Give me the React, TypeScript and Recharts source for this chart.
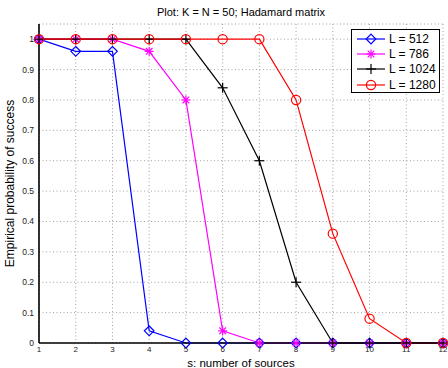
import React from 'react';
import { LineChart, Line, XAxis, YAxis, CartesianGrid, Label } from 'recharts';

const sources = [1, 2, 3, 4, 5, 6, 7, 8, 9, 10, 11, 12];
const l512 = [1, 0.96, 0.96, 0.04, 0, 0, 0, 0, 0, 0, 0, 0];
const l786 = [1, 1, 1, 0.96, 0.8, 0.04, 0, 0, 0, 0, 0, 0];
const l1024 = [1, 1, 1, 1, 1, 0.84, 0.6, 0.2, 0, 0, 0, 0];
const l1280 = [1, 1, 1, 1, 1, 1, 1, 0.8, 0.36, 0.08, 0, 0];
const yTicks = [0, 0.1, 0.2, 0.3, 0.4, 0.5, 0.6, 0.7, 0.8, 0.9, 1];
const seriesNames = ['L = 512', 'L = 786', 'L = 1024', 'L = 1280'];

const data = sources.map((s, i) => ({ s, a: l512[i], b: l786[i], c: l1024[i], d: l1280[i] }));

type MarkerKind = 'diamond' | 'star' | 'plus' | 'circle';

const series: { key: string; name: string; color: string; marker: MarkerKind }[] = [
  { key: 'a', name: seriesNames[0], color: '#0000ff', marker: 'diamond' },
  { key: 'b', name: seriesNames[1], color: '#ff00ff', marker: 'star' },
  { key: 'c', name: seriesNames[2], color: '#000000', marker: 'plus' },
  { key: 'd', name: seriesNames[3], color: '#ff0000', marker: 'circle' },
];

function Marker({ kind, cx, cy, color }: { kind: MarkerKind; cx: number; cy: number; color: string }) {
  const sw = 1.2;
  if (kind === 'diamond') {
    const h = 4.8;
    return (
      <polygon
        points={`${cx},${cy - h} ${cx + h},${cy} ${cx},${cy + h} ${cx - h},${cy}`}
        fill="none"
        stroke={color}
        strokeWidth={sw}
      />
    );
  }
  if (kind === 'circle') {
    return <circle cx={cx} cy={cy} r={4.6} fill="none" stroke={color} strokeWidth={sw} />;
  }
  if (kind === 'plus') {
    const h = 5;
    return (
      <g stroke={color} strokeWidth={sw}>
        <line x1={cx - h} y1={cy} x2={cx + h} y2={cy} />
        <line x1={cx} y1={cy - h} x2={cx} y2={cy + h} />
      </g>
    );
  }
  const h = 4.5;
  const d = 3.3;
  return (
    <g stroke={color} strokeWidth={sw}>
      <line x1={cx - h} y1={cy} x2={cx + h} y2={cy} />
      <line x1={cx} y1={cy - h} x2={cx} y2={cy + h} />
      <line x1={cx - d} y1={cy - d} x2={cx + d} y2={cy + d} />
      <line x1={cx - d} y1={cy + d} x2={cx + d} y2={cy - d} />
    </g>
  );
}

const font = 'Liberation Sans, Arial, Helvetica, sans-serif';

function LegendBox() {
  return (
    <div
      style={{
        position: 'absolute',
        left: 351,
        top: 29,
        width: 87,
        height: 61,
        border: '1px solid #000',
        background: '#fff',
        fontFamily: font,
        fontSize: 12,
        color: '#000',
        boxSizing: 'content-box',
        paddingTop: 1,
      }}
    >
      {series.map((s) => (
        <div key={s.key} style={{ position: 'relative', height: 15.3, display: 'flex', alignItems: 'center' }}>
          <svg width={34} height={14} style={{ marginLeft: 3, display: 'block' }}>
            <line x1={2} y1={7} x2={30} y2={7} stroke={s.color} strokeWidth={1.2} />
            <Marker kind={s.marker} cx={16} cy={7} color={s.color} />
          </svg>
          <span style={{ marginLeft: 0, lineHeight: '14px' }}>{s.name}</span>
        </div>
      ))}
    </div>
  );
}

export default function App() {
  return (
    <div style={{ position: 'absolute', left: 0, top: 0, width: 448, height: 368, background: '#fff' }}>
      <div
        style={{
          position: 'absolute',
          left: 39,
          width: 404,
          top: 5,
          textAlign: 'center',
          fontFamily: font,
          fontSize: 11,
          lineHeight: '14px',
          color: '#000',
        }}
      >
        Plot: K = N = 50; Hadamard matrix
      </div>
      <LineChart width={448} height={368} data={data} margin={{ top: 24, right: 5, left: 9, bottom: 0 }}>
        <CartesianGrid stroke="#8a8a8a" strokeDasharray="1 2.5" strokeWidth={0.8} />
        <XAxis
          dataKey="s"
          type="number"
          domain={[1, 12]}
          ticks={sources}
          height={25}
          tickLine={false}
          tickSize={1}
          axisLine={{ stroke: '#000', strokeWidth: 1.6 }}
          tick={{ fontSize: 8, fill: '#222', fontFamily: font }}
        >
          <Label
            value="s: number of sources"
            position="insideBottom"
            offset={1}
            style={{ fontSize: 11.5, fill: '#000', fontFamily: font }}
          />
        </XAxis>
        <XAxis
          xAxisId="top"
          orientation="top"
          type="number"
          domain={[1, 12]}
          ticks={sources}
          height={0}
          mirror
          tickSize={3}
          tickLine={{ stroke: '#000' }}
          tick={() => <g />}
          axisLine={{ stroke: '#000', strokeWidth: 1 }}
        />
        <YAxis
          type="number"
          domain={[0, 1.05]}
          ticks={yTicks}
          width={30}
          tickLine={false}
          tickSize={3}
          axisLine={{ stroke: '#000', strokeWidth: 1.6 }}
          tick={{ fontSize: 8.5, fill: '#222', fontFamily: font }}
        >
          <Label
            value="Empirical probability of success"
            angle={-90}
            position="insideLeft"
            offset={1}
            style={{ fontSize: 12, fill: '#000', fontFamily: font, textAnchor: 'middle' }}
          />
        </YAxis>
        <YAxis
          yAxisId="right"
          orientation="right"
          type="number"
          domain={[0, 1.05]}
          ticks={yTicks}
          width={0}
          mirror
          tickSize={3}
          tickLine={{ stroke: '#000' }}
          tick={() => <g />}
          axisLine={{ stroke: '#000', strokeWidth: 1 }}
        />
        {series.map((s) => (
          <Line
            key={s.key}
            dataKey={s.key}
            name={s.name}
            type="linear"
            stroke={s.color}
            strokeWidth={1.2}
            isAnimationActive={false}
            dot={(p: any) => (
              <Marker key={`${s.key}-${p.index}`} kind={s.marker} cx={p.cx} cy={p.cy} color={s.color} />
            )}
            activeDot={false}
          />
        ))}
      </LineChart>
      <LegendBox />
    </div>
  );
}
